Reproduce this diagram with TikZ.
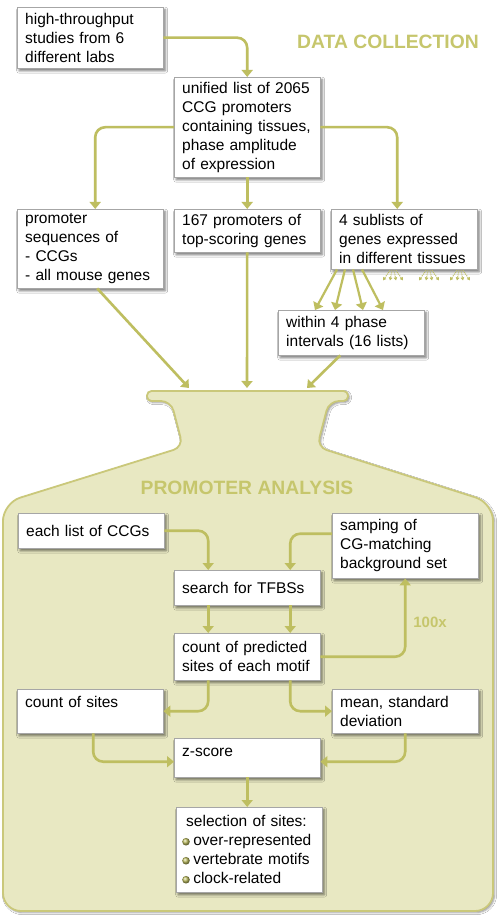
\documentclass[tikz,border=0pt]{standalone}
\usepackage{fontspec}
\setmainfont{Liberation Sans}
\usepackage{tikz}
\usepackage{xcolor}
\usetikzlibrary{arrows.meta,shadows.blur}
\definecolor{khaki}{RGB}{190,190,96}
\definecolor{titlecolor}{RGB}{198,198,108}
\definecolor{flaskfill}{RGB}{232,232,194}
\definecolor{flaskline}{RGB}{202,200,122}
\newcommand{\listdot}{\tikz[baseline=-4pt]\shade[ball color=khaki] (0,0) circle (3.8pt);\hspace{3.5pt}}

\begin{document}
\begin{tikzpicture}[x=1pt, y=-1pt]
    % Define styles
    \tikzstyle{box} = [rectangle, draw=black!35, fill=white, anchor=north west, text width=130pt, inner xsep=8pt, inner ysep=4pt, align=left, font=\fontsize{15.5}{19}\selectfont, blur shadow={shadow xshift=2pt, shadow yshift=-2.5pt, shadow blur radius=2.5pt, shadow opacity=55}]
    \tikzstyle{heading} = [text=titlecolor, font=\bfseries\fontsize{19.3}{23}\selectfont]
    \tikzstyle{arrow} = [draw=khaki, line width=2.6pt, rounded corners=10pt, -{Triangle[width=11pt,length=7pt]}]
    \tikzstyle{fan} = [draw=khaki, line width=1pt, densely dotted, -{Triangle[width=3.5pt,length=3pt]}]

    \fill[white] (0,0) rectangle (498,917);
    \useasboundingbox (0,0) rectangle (498,917);

    % Flask
    \draw[flaskline, fill=flaskfill, line width=1.8pt, blur shadow={shadow xshift=1.5pt, shadow yshift=-1.5pt, shadow opacity=45}]
        [rounded corners=4.5pt] (147,391) -- (348,391) -- (348,401)
        [rounded corners=10pt] -- (329,401) -- (317,447)
        [rounded corners=18pt] -- (493,503) -- (493,911) -- (3,911) -- (3,503)
        [rounded corners=10pt] -- (183,447) -- (171,401)
        [rounded corners=4.5pt] -- (147,401) -- cycle;
    \coordinate (mouthL) at (189,388);
    \coordinate (mouthC) at (247,388);
    \coordinate (mouthR) at (307,388);

    % Titles
    \node [heading] (datatitle) at (388,42) {DATA COLLECTION};
    \node [heading] (promtitle) at (247,488) {PROMOTER ANALYSIS};
    \node [text=titlecolor, font=\bfseries\fontsize{15}{18}\selectfont] (repeat) at (430,622) {100x};

    % Nodes
    \node [box, minimum height=61pt] (studies) at (17,7) {high-throughput\\studies from 6\\different labs};
    \node [box, minimum height=100pt] (unified) at (174,77) {\makebox[130pt][s]{unified list of 2065}\\\makebox[130pt][s]{CCG promoters}\\\makebox[130pt][s]{containing tissues,}\\\makebox[130pt][s]{phase amplitude}\\of expression};
    \node [box, minimum height=79pt] (promseq) at (17,209) {promoter\\sequences of\\- CCGs\\- all mouse genes};
    \node [box, minimum height=43pt] (topgenes) at (174,209) {\makebox[130pt][s]{167 promoters of}\\top-scoring genes};
    \node [box, minimum height=60pt] (sublists) at (331,209) {4 sublists of\\genes expressed\\in different tissues};
    \node [box, minimum height=45pt] (phases) at (278,310) {within 4 phase\\intervals (16 lists)};

    \node [box, minimum height=35pt] (eachlist) at (18,513) {each list of CCGs};
    \node [box, minimum height=65pt] (sampling) at (332,513) {samping of\\CG-matching\\background set};
    \node [box, minimum height=35pt] (search) at (174,570) {search for TFBSs};
    \node [box, minimum height=47pt] (counts) at (174,633) {count of predicted\\sites of each motif};
    \node [box, minimum height=44pt] (sitecount) at (17,689) {count of sites\\\mbox{}};
    \node [box, minimum height=44pt] (meanstd) at (332,689) {mean, standard\\deviation};
    \node [box, minimum height=39pt] (zscore) at (174,738) {z-score\\[-9pt]\mbox{}};
    \node [box, minimum height=85pt, inner xsep=6pt, text width=134pt] (select) at (176,807) {\hspace{4pt}selection of sites:\\\mbox{\listdot over-represented}\\\mbox{\listdot vertebrate motifs}\\\mbox{\listdot clock-related}};

    % Arrows
    \draw [arrow] (studies.east) -| (unified.north);
    \draw [arrow] (unified.west) -| ([xshift=5pt]promseq.north);
    \draw [arrow] (unified.south) -- (topgenes.north);
    \draw [arrow] (unified.east) -| ([xshift=-7pt]sublists.north);
    \foreach \s/\e in {6/37, 14/57, 22/85, 31/105}
        \draw [arrow, line width=2.2pt] ([xshift=\s pt]sublists.south west) -- ([xshift=\e pt]phases.north west);
    \foreach \c in {62,98,129}
        \foreach \d/\t in {-3/-10, -1/-3, 1/3, 3/10}
            \draw [fan] ([shift={(\c+\d,1)}]sublists.south west) -- ([shift={(\c+\t,11)}]sublists.south west);
    \draw [arrow] ([xshift=7pt]promseq.south) -- (mouthL);
    \draw [arrow] (topgenes.south) -- (mouthC);
    \draw [arrow] ([xshift=-11pt]phases.south) -- (mouthR);

    \draw [arrow] (eachlist.east) -| ([xshift=-39pt]search.north);
    \draw [arrow] ([yshift=12pt]sampling.west) -| ([xshift=43pt]search.north);
    \draw [arrow] ([xshift=-39pt]search.south) -- ([xshift=-39pt]counts.north);
    \draw [arrow] ([xshift=43pt]search.south) -- ([xshift=43pt]counts.north);
    \draw [arrow] (counts.east) -| (sampling.south);
    \draw [arrow] ([xshift=-39pt]counts.south) |- (sitecount.east);
    \draw [arrow] ([xshift=43pt]counts.south) |- (meanstd.west);
    \draw [arrow] ([xshift=3pt]sitecount.south) |- ([yshift=-4pt]zscore.west);
    \draw [arrow] (meanstd.south) |- ([yshift=-4pt]zscore.east);
    \draw [arrow] (zscore.south) -- (zscore.south |- select.north);
\end{tikzpicture}
\end{document}
